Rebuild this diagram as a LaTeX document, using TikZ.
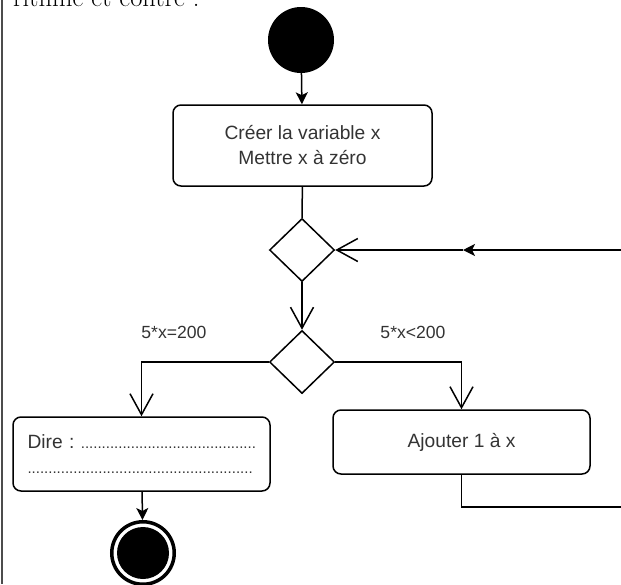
\documentclass[tikz,border=0pt]{standalone}
\usepackage{fontspec}
\newfontfamily\diafont{Liberation Sans}
\usetikzlibrary{shapes.geometric,arrows.meta}
\definecolor{txt}{RGB}{51,51,51}
\begin{document}
\begin{tikzpicture}[x=1pt,y=-1pt,
  box/.style={draw, rounded corners=8pt, line width=1.5pt, inner sep=0pt,
    font=\diafont\fontsize{19.2}{25}\selectfont, text=txt, align=center},
  dec/.style={draw, diamond, line width=1.5pt, minimum width=65pt, minimum height=63pt, inner sep=0pt},
  conn/.style={line width=1.5pt},
  barb/.style={-{Straight Barb[length=21pt,width=23pt]}},
  filled/.style={-{Stealth[length=12pt,width=12pt,inset=3pt]}},
  lab/.style={font=\diafont\fontsize{17.6}{20}\selectfont, text=txt, inner sep=0pt}
]
\useasboundingbox (0,0) rectangle (621,584);
\clip (0,0) rectangle (621,584);
% partial text line at top
\node[anchor=base west, inner sep=0pt, font=\fontsize{26.5}{32}\selectfont] (title) at (13,6) {rithme et contre :};
\draw[line width=1.5pt, black!70] (2,0) -- (2,584);

% nodes
\node[circle, fill=black, minimum size=66pt, inner sep=0pt] (start) at (301,40) {};
\node[box, minimum width=259pt, minimum height=81pt] (b1) at (302.5,145.5) {Créer la variable x\\Mettre x à zéro};
\node[dec] (d1) at (302,250) {};
\node[dec] (d2) at (302,362) {};
\node[box, minimum width=257pt, minimum height=74pt, align=left, text width=240pt, inner xsep=8.5pt] (dire) at (141.5,454)
  {\hspace*{6pt}Dire :~{\fontsize{15}{25}\selectfont..........................................}\\
   \hspace*{6pt}{\fontsize{15}{25}\selectfont......................................................}};
\node[box, minimum width=257pt, minimum height=64pt] (ajout) at (461.5,442) {Ajouter 1 à x};
\node[circle, draw, line width=3.5pt, minimum size=62.5pt, inner sep=0pt] (endc) at (143,553) {};
\node[circle, fill=black, minimum size=52pt, inner sep=0pt] (endin) at (endc) {};

\node[lab] (l1) at (174,332) {5*x=200};
\node[lab] (l2) at (413,332) {5*x<200};

\coordinate (fr1) at (621,250);
\coordinate (mid1) at (463,250);
\coordinate (fr2) at (621,507);

% connectors
\draw[conn, filled] (start) -- (b1);
\draw[conn] (b1) -- (d1);
\draw[conn, barb] (d1) -- (d2);
\draw[conn, filled] (fr1) -- (mid1);
\draw[conn, barb] (mid1) -- (d1.east);
\draw[conn, barb] (d2.west) -| (dire.north);
\draw[conn, barb] (d2.east) -| (ajout.north);
\draw[conn] (ajout.south) |- (fr2);
\draw[conn, filled] (dire) -- (endc);
\end{tikzpicture}
\end{document}
